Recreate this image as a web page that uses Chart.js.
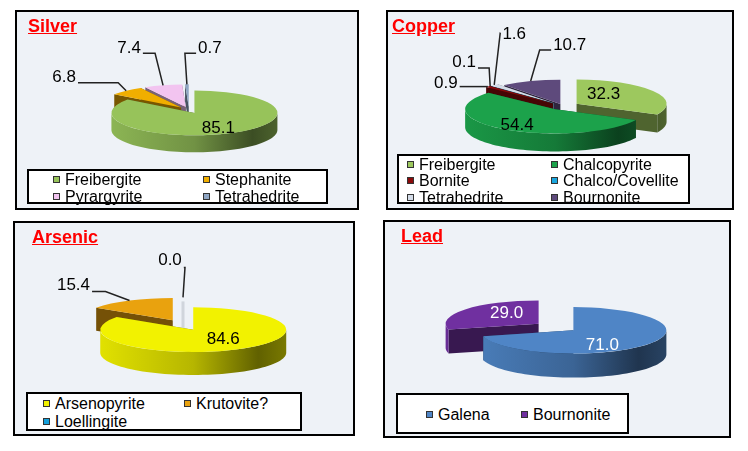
<!DOCTYPE html>
<html>
<head>
<meta charset="utf-8">
<script src="https://cdn.jsdelivr.net/npm/chart.js@4.4.0/dist/chart.umd.min.js"></script>
<style>
body { margin: 0; width: 748px; height: 451px; background: #fff; position: relative; overflow: hidden; font-family: "Liberation Sans", Arial, sans-serif; }
.panel { position: absolute; box-sizing: border-box; border: 2px solid #000; background: #eef2f7; }
canvas { position: absolute; }
.title { position: absolute; color: #f00; font-weight: bold; font-size: 18px; line-height: 18px; text-decoration: underline; white-space: nowrap; }
.legend { position: absolute; box-sizing: border-box; border: 2px solid #000; background: #fff; }
.mark { position: absolute; box-sizing: border-box; width: 7px; height: 7px; border: 1px solid #333; }
.item { position: absolute; font-size: 16px; line-height: 17px; color: #000; white-space: nowrap; }
</style>
</head>
<body>
<script>
// data
const silverLabels = ['Freibergite', 'Stephanite', 'Pyrargyrite', 'Tetrahedrite'];
const silverValues = [85.1, 6.8, 7.4, 0.7];
const copperLabels = ['Freibergite', 'Chalcopyrite', 'Bornite', 'Chalco/Covellite', 'Tetrahedrite', 'Bournonite'];
const copperValues = [32.3, 54.4, 0.9, 0.1, 1.6, 10.7];
const arsenicLabels = ['Arsenopyrite', 'Krutovite?', 'Loellingite'];
const arsenicValues = [84.6, 15.4, 0.0];
const leadLabels = ['Galena', 'Bournonite'];
const leadValues = [71.0, 29.0];

// colours
const silverColors = ['#97c35a', '#f0ae00', '#f2c4f0', '#8fa6c4'];
const copperColors = ['#9dc85e', '#1ca24b', '#8b0a0a', '#1aa6de', '#d4dce8', '#5e4a7c'];
const arsenicColors = ['#f2f200', '#e9a20e', '#14a0dc'];
const leadColors = ['#4f85c6', '#7030a0'];

function shade(hex, f) {
    const n = parseInt(hex.slice(1), 16);
    const r = Math.round(((n >> 16) & 255) * f);
    const g = Math.round(((n >> 8) & 255) * f);
    const b = Math.round((n & 255) * f);
    return 'rgb(' + r + ',' + g + ',' + b + ')';
}

function midAngle(a) {
    return (a.startAngle + a.endAngle) / 2;
}

// draws the pie tilted with a side wall, slices pulled out from the centre
const pie3d = {
    id: 'pie3d',
    beforeDatasetsDraw(chart, args, opts) {
        const ctx = chart.ctx;
        const arcs = chart.getDatasetMeta(0).data;
        const colors = chart.data.datasets[0].backgroundColor;
        const cx = arcs[0].x, cy = arcs[0].y, r = arcs[0].outerRadius;
        const t = opts.tilt, depth = opts.depth;
        const order = arcs.map((a, i) => i).sort((i, j) => Math.sin(midAngle(arcs[i])) - Math.sin(midAngle(arcs[j])));

        for (const i of order) {
            const a = arcs[i];
            const m = midAngle(a);
            const ox = cx + Math.cos(m) * opts.explode[i];
            const oy = cy + Math.sin(m) * opts.explode[i] * t;

            if (a.endAngle - a.startAngle <= 0) {
                // zero slice: only its thin cut face shows
                ctx.save();
                ctx.strokeStyle = '#d0d5dc';
                ctx.lineWidth = 3;
                ctx.beginPath();
                ctx.moveTo(ox + Math.cos(m) * r, oy + Math.sin(m) * r * t + 4);
                ctx.lineTo(ox, oy + depth);
                ctx.stroke();
                ctx.restore();
                continue;
            }

            // the two cut faces
            ctx.fillStyle = shade(colors[i], 0.5);
            for (const ang of [a.startAngle, a.endAngle]) {
                const rx = ox + Math.cos(ang) * r, ry = oy + Math.sin(ang) * r * t;
                ctx.beginPath();
                ctx.moveTo(ox, oy);
                ctx.lineTo(rx, ry);
                ctx.lineTo(rx, ry + depth);
                ctx.lineTo(ox, oy + depth);
                ctx.closePath();
                ctx.fill();
            }

            // outer wall on the front half
            const a0 = Math.max(a.startAngle, 0), a1 = Math.min(a.endAngle, Math.PI);
            if (a1 > a0) {
                const g = ctx.createLinearGradient(ox - r, 0, ox + r, 0);
                g.addColorStop(0, shade(colors[i], 0.93));
                g.addColorStop(0.5, shade(colors[i], 0.75));
                g.addColorStop(0.85, shade(colors[i], 0.4));
                g.addColorStop(1, shade(colors[i], 0.5));
                ctx.beginPath();
                const n = 60;
                for (let k = 0; k <= n; k++) {
                    const ang = a0 + (a1 - a0) * k / n;
                    const px = ox + Math.cos(ang) * r, py = oy + Math.sin(ang) * r * t;
                    if (k === 0) ctx.moveTo(px, py); else ctx.lineTo(px, py);
                }
                for (let k = n; k >= 0; k--) {
                    const ang = a0 + (a1 - a0) * k / n;
                    ctx.lineTo(ox + Math.cos(ang) * r, oy + Math.sin(ang) * r * t + depth);
                }
                ctx.closePath();
                ctx.fillStyle = g;
                ctx.fill();
            }

            ctx.save();
            ctx.translate(ox, oy);
            ctx.scale(1, t);
            ctx.translate(-cx, -cy);
            a.draw(ctx);
            ctx.restore();
        }
        return false;
    },
    afterDraw(chart, args, opts) {
        const ctx = chart.ctx;
        const arcs = chart.getDatasetMeta(0).data;
        const values = chart.data.datasets[0].data;
        const cx = arcs[0].x, cy = arcs[0].y, r = arcs[0].outerRadius;
        ctx.save();
        ctx.font = '17px "Liberation Sans", Arial, sans-serif';
        ctx.textAlign = 'center';
        ctx.textBaseline = 'middle';
        opts.labels.forEach((L, i) => {
            const a = arcs[i];
            const m = midAngle(a);
            let ax = cx + Math.cos(m) * opts.explode[i];
            let ay = cy + Math.sin(m) * opts.explode[i] * opts.tilt;
            if (L.edge) {
                ax += Math.cos(m) * r;
                ay += Math.sin(m) * r * opts.tilt;
            }
            const tx = ax + L.dx, ty = ay + L.dy;
            const text = values[i].toFixed(1);
            if (L.elbow) {
                const w = ctx.measureText(text).width;
                const ex = ax + L.elbow[0], ey = ay + L.elbow[1];
                const sx = tx < ex ? tx + w / 2 + 2 : tx - w / 2 - 2;
                ctx.strokeStyle = '#222';
                ctx.lineWidth = 1.5;
                ctx.beginPath();
                ctx.moveTo(ax, ay);
                ctx.lineTo(ex, ey);
                ctx.lineTo(sx, ey);
                ctx.stroke();
            }
            ctx.fillStyle = opts.labelColor;
            ctx.fillText(text, tx, ty);
        });
        ctx.restore();
    }
};

function addDiv(cls, x, y, w, h) {
    const d = document.createElement('div');
    d.className = cls;
    d.style.left = x + 'px';
    d.style.top = y + 'px';
    if (w) d.style.width = w + 'px';
    if (h) d.style.height = h + 'px';
    document.body.appendChild(d);
    return d;
}

function makePanel(p) {
    const [bx, by, bw, bh] = p.box;
    addDiv('panel', bx, by, bw, bh);

    const canvas = document.createElement('canvas');
    canvas.width = bw;
    canvas.height = bh;
    canvas.style.left = bx + 'px';
    canvas.style.top = by + 'px';
    document.body.appendChild(canvas);

    const cx = p.center[0] - bx, cy = p.center[1] - by;
    const padding = {
        left: Math.max(0, 2 * cx - bw),
        right: Math.max(0, bw - 2 * cx),
        top: Math.max(0, 2 * cy - bh),
        bottom: Math.max(0, bh - 2 * cy)
    };

    new Chart(canvas, {
        type: 'pie',
        data: {
            labels: p.labels,
            datasets: [{
                data: p.values,
                backgroundColor: p.colors,
                borderWidth: 0,
                clip: false
            }]
        },
        options: {
            responsive: false,
            animation: false,
            devicePixelRatio: 1,
            events: [],
            radius: p.radius,
            layout: { padding: padding },
            plugins: {
                legend: { display: false },
                tooltip: { enabled: false },
                pie3d: {
                    tilt: p.tilt,
                    depth: p.depth,
                    explode: p.explode,
                    labels: p.valueLabels,
                    labelColor: p.labelColor
                }
            }
        },
        plugins: [pie3d]
    });

    const t = addDiv('title', p.title[1], p.title[2]);
    t.textContent = p.title[0];

    const lg = p.legend;
    addDiv('legend', lg.box[0], lg.box[1], lg.box[2], lg.box[3]);
    p.labels.forEach((name, i) => {
        const x = lg.cols[i % 2];
        const y = lg.row0 + Math.floor(i / 2) * lg.step;
        const mk = addDiv('mark', x, y - 3.5);
        mk.style.background = p.colors[i];
        const it = addDiv('item', x + 12, y - 8.5);
        it.textContent = name;
    });
}

makePanel({
    title: ['Silver', 28, 17],
    box: [15, 10, 344, 200],
    labels: silverLabels, values: silverValues, colors: silverColors,
    center: [189, 110], radius: 83, tilt: 0.27, depth: 17,
    explode: [12, 12, 12, 12],
    labelColor: '#000',
    valueLabels: [
        { edge: false, dx: 24, dy: 15 },
        { edge: true, dx: -62, dy: -13, elbow: [-8, -8] },
        { edge: true, dx: -34, dy: -37, elbow: [-8, -32] },
        { edge: true, dx: 23, dy: -36, elbow: [-2, -31] }
    ],
    legend: { box: [27, 169, 301, 35], cols: [53, 203], row0: 179, step: 17 }
});

makePanel({
    title: ['Copper', 392, 17],
    box: [386, 10, 348, 200],
    labels: copperLabels, values: copperValues, colors: copperColors,
    center: [563, 106], radius: 90, tilt: 0.27, depth: 18,
    explode: [16, 14, 14, 14, 14, 8],
    labelColor: '#000',
    valueLabels: [
        { edge: false, dx: 27, dy: -9 },
        { edge: false, dx: -38, dy: 16 },
        { edge: true, dx: -42, dy: -3, elbow: [-2, 0] },
        { edge: true, dx: -26, dy: -24, elbow: [-1, -18] },
        { edge: true, dx: 20, dy: -51, elbow: [6, -52] },
        { edge: true, dx: 39, dy: -36, elbow: [9, -31] }
    ],
    legend: { box: [397, 154, 293, 50], cols: [407, 551], row0: 164, step: 16.5 }
});

makePanel({
    title: ['Arsenic', 32, 228],
    box: [13, 221, 342, 215],
    labels: arsenicLabels, values: arsenicValues, colors: arsenicColors,
    center: [183, 325], radius: 93, tilt: 0.24, depth: 23,
    explode: [22, 22, 22],
    labelColor: '#000',
    valueLabels: [
        { edge: false, dx: 30, dy: 10 },
        { edge: true, dx: -56, dy: -15, elbow: [-24, -9] },
        { edge: true, dx: -13, dy: -37, elbow: [2, -30] }
    ],
    legend: { box: [26, 392, 276, 39], cols: [43, 184], row0: 403, step: 18 }
});

makePanel({
    title: ['Lead', 401, 227],
    box: [383, 220, 348, 218],
    labels: leadLabels, values: leadValues, colors: leadColors,
    center: [556, 327], radius: 93, tilt: 0.25, depth: 24,
    explode: [22, 22],
    labelColor: '#fff',
    valueLabels: [
        { edge: false, dx: 29, dy: 15 },
        { edge: false, dx: -32, dy: -10 }
    ],
    legend: { box: [396, 393, 233, 41], cols: [426, 521], row0: 414, step: 0 }
});
</script>
</body>
</html>
